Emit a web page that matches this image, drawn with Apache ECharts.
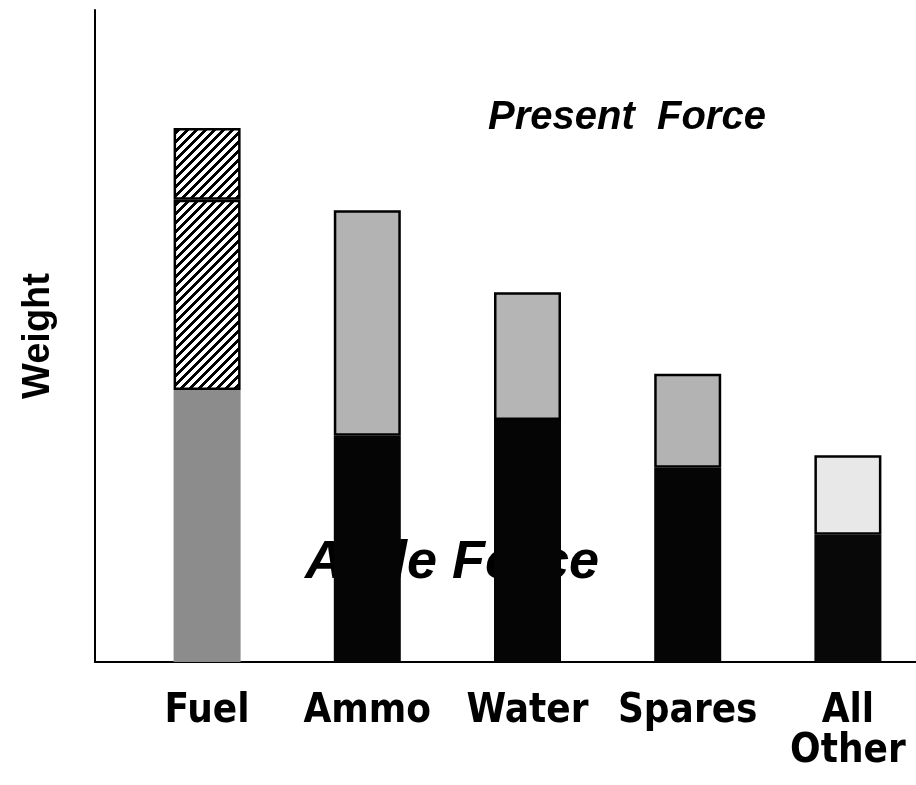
<!DOCTYPE html>
<html>
<head>
<meta charset="utf-8">
<script src="https://cdn.jsdelivr.net/npm/echarts@6/dist/echarts.min.js"></script>
<style>
  html, body { margin: 0; padding: 0; background: #fff; }
  #chart { width: 916px; height: 785px; }
</style>
</head>
<body>
<div id="chart"></div>
<script>
// 类别与数据（按图中像素估读，y 轴 0-100）
const categories = ['Fuel', 'Ammo', 'Water', 'Spares', 'All\nOther']
const agileWeight = [41.7, 34.7, 37.1, 29.8, 19.5]        // 下段：Agile Force
const presentExtra = [29.2, 34.6, 19.6, 14.4, 12.2]       // 上段：Present Force 增量
const fuelTopExtra = [11.0, 0, 0, 0, 0]                   // Fuel 顶部分隔段
const agileColors = ['#8c8c8c', '#050505', '#050505', '#050505', '#080808']
const presentColors = ['hatch', '#b3b3b3', '#b5b5b5', '#b3b3b3', '#e8e8e8']

// 斜线填充图案（逐像素，避免抗锯齿接缝）
const makeHatch = () => {
  const n = 9
  const c = document.createElement('canvas')
  c.width = n
  c.height = n
  const ctx = c.getContext('2d')
  ctx.fillStyle = '#fff'
  ctx.fillRect(0, 0, n, n)
  ctx.fillStyle = '#000'
  for (let x = 0; x < n; x++) {
    for (let y = 0; y < n; y++) {
      if ((x + y) % n < 4) ctx.fillRect(x, y, 1, 1)
    }
  }
  return { image: c, repeat: 'repeat' }
}
const hatch = makeHatch()

const chart = echarts.init(document.getElementById('chart'))

const barBase = {
  type: 'bar',
  stack: 'w',
  xAxisIndex: 1,
  yAxisIndex: 1,
  barWidth: 67,
  z: 3
}

chart.setOption({
  animation: false,
  grid: [
    { left: 95, top: 10, width: 821, height: 652, outerBoundsMode: 'none', containLabel: false },
    { left: 127, top: 10, width: 801, height: 652, outerBoundsMode: 'none', containLabel: false }
  ],
  xAxis: [
    {
      gridIndex: 0, type: 'value', min: 0, max: 1,
      axisLine: { show: true, onZero: false, lineStyle: { color: '#000', width: 2 } },
      axisTick: { show: false }, axisLabel: { show: false }, splitLine: { show: false }
    },
    {
      gridIndex: 1, type: 'category', data: categories,
      axisLine: { show: false }, axisTick: { show: false },
      axisLabel: {
        interval: 0,
        margin: 30,
        color: '#000',
        fontFamily: 'DejaVu Sans Condensed',
        fontWeight: 'bold',
        fontSize: 40,
        lineHeight: 40
      }
    }
  ],
  yAxis: [
    {
      gridIndex: 0, type: 'value', min: 0, max: 100,
      name: 'Weight',
      nameLocation: 'middle',
      nameGap: 37,
      nameTextStyle: { fontFamily: 'Liberation Sans', fontWeight: 'bold', fontSize: 38, color: '#000' },
      axisLine: { show: true, lineStyle: { color: '#000', width: 2 } },
      axisTick: { show: false }, axisLabel: { show: false }, splitLine: { show: false }
    },
    {
      gridIndex: 1, type: 'value', min: 0, max: 100, show: false
    }
  ],
  graphic: [
    {
      type: 'text', x: 488, y: 118, z: 0,
      style: {
        text: 'Present  Force',
        font: 'italic bold 40px "Liberation Sans"',
        fill: '#000',
        verticalAlign: 'middle'
      }
    },
    {
      type: 'text', x: 305, y: 563, z: 0,
      style: {
        text: 'Agile Force',
        font: 'italic bold 54px "Liberation Sans"',
        fill: '#000',
        verticalAlign: 'middle'
      }
    }
  ],
  series: [
    {
      ...barBase,
      name: 'Agile Force',
      data: agileWeight.map((v, i) => ({ value: v, itemStyle: { color: agileColors[i] } }))
    },
    {
      ...barBase,
      name: 'Present Force',
      data: presentExtra.map((v, i) => ({
        value: v,
        itemStyle: {
          color: presentColors[i] === 'hatch' ? hatch : presentColors[i],
          borderColor: '#000',
          borderWidth: 2.5
        }
      }))
    },
    {
      ...barBase,
      name: 'Fuel top',
      data: fuelTopExtra.map(v => ({
        value: v || '-',
        itemStyle: { color: hatch, borderColor: '#000', borderWidth: 2.5 }
      }))
    }
  ]
})
</script>
</body>
</html>
